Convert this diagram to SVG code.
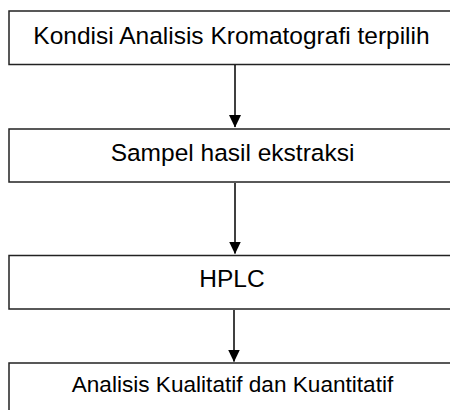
<svg xmlns="http://www.w3.org/2000/svg" width="450" height="410" viewBox="0 0 450 410">
  <defs>
    <marker id="arrow" markerUnits="userSpaceOnUse" markerWidth="13" markerHeight="12" refX="12" refY="6" orient="auto">
      <path d="M0,0 L12.5,6 L0,12 Z" fill="#000"/>
    </marker>
    <style>
      .box { fill: #fff; stroke: #222; stroke-width: 1.5; }
      .lbl { font-family: "Liberation Sans", Arial, sans-serif; font-size: 24.5px; fill: #000; text-anchor: middle; }
      .edge { stroke: #000; stroke-width: 1.5; fill: none; marker-end: url(#arrow); }
    </style>
  </defs>
  <rect width="450" height="410" fill="#fff"/>

  <g id="node-kondisi">
    <rect class="box" x="9" y="11" width="460" height="53.5"/>
    <text class="lbl" x="231.5" y="43.5">Kondisi Analisis Kromatografi terpilih</text>
  </g>
  <g id="node-sampel">
    <rect class="box" x="9" y="129" width="460" height="53"/>
    <text class="lbl" x="232.5" y="161">Sampel hasil ekstraksi</text>
  </g>
  <g id="node-hplc">
    <rect class="box" x="9" y="255.5" width="460" height="53.5"/>
    <text class="lbl" x="232" y="287">HPLC</text>
  </g>
  <g id="node-analisis">
    <rect class="box" x="9" y="363" width="460" height="60"/>
    <text class="lbl" x="232.5" y="392" style="font-size:22.6px">Analisis Kualitatif dan Kuantitatif</text>
  </g>

  <g id="connectors">
    <line class="edge" x1="235" y1="65" x2="235" y2="127"/>
    <line class="edge" x1="235" y1="183" x2="235" y2="253.5"/>
    <line class="edge" x1="234" y1="310" x2="234" y2="361.5"/>
  </g>
</svg>
